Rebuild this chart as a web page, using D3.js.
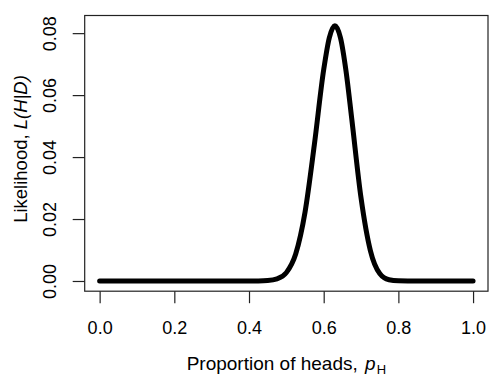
<!DOCTYPE html>
<html>
<head>
<meta charset="utf-8">
<script src="https://cdn.jsdelivr.net/npm/d3@7"></script>
<style>
  html, body { margin: 0; padding: 0; background: #fff; }
  svg { display: block; font-family: "Liberation Sans", Arial, sans-serif; }
</style>
</head>
<body>
<div id="chart"></div>
<script>
// proportion of heads (x) and likelihood (y)
const pH = [0, 0.1, 0.2, 0.3, 0.4, 0.425, 0.45, 0.475, 0.5, 0.525, 0.55, 0.575, 0.6, 0.615,
            0.63, 0.645, 0.66, 0.675, 0.7, 0.725, 0.75, 0.775, 0.8, 0.825, 0.9, 1];
const likelihood = [0, 0, 0, 0, 0.000002, 0.000017, 0.00012, 0.00065, 0.0027, 0.0087, 0.0222, 0.0440, 0.0682, 0.0785,
                    0.0824, 0.0785, 0.0676, 0.0525, 0.0268, 0.0098, 0.0024, 0.00039, 0.000037, 0.000002, 0, 0];
const xTicks = [0, 0.2, 0.4, 0.6, 0.8, 1.0];
const yTicks = [0, 0.02, 0.04, 0.06, 0.08];

const width = 496,
      height = 377;
const box = { left: 84.7, right: 488, top: 15.5, bottom: 291.2 };

const svg = d3.select("#chart")
              .append("svg")
              .attr("width", width)
              .attr("height", height);

// R style: 4% padding around the data range
const yMax = d3.max(likelihood);
const x = d3.scaleLinear().domain([-0.04, 1.04]).range([box.left, box.right]);
const y = d3.scaleLinear().domain([-0.04 * yMax, yMax * 1.04]).range([box.bottom, box.top]);

// Curve
const line = d3.line()
               .x((d, i) => x(pH[i]))
               .y(d => y(d))
               .curve(d3.curveMonotoneX);

svg.append("path")
   .datum(likelihood)
   .attr("d", line)
   .attr("fill", "none")
   .attr("stroke", "#000")
   .attr("stroke-width", 5)
   .attr("stroke-linecap", "round")
   .attr("stroke-linejoin", "round");

// Box
svg.append("rect")
   .attr("x", box.left)
   .attr("y", box.top)
   .attr("width", box.right - box.left)
   .attr("height", box.bottom - box.top)
   .attr("fill", "none")
   .attr("stroke", "#222")
   .attr("stroke-width", 1.2);

// Axes
const xAxis = svg.append("g")
                 .attr("transform", `translate(0,${box.bottom})`)
                 .call(d3.axisBottom(x).tickValues(xTicks).tickSize(12).tickPadding(18).tickFormat(d3.format(".1f")));

const yAxis = svg.append("g")
                 .attr("transform", `translate(${box.left},0)`)
                 .call(d3.axisLeft(y).tickValues(yTicks).tickSize(12).tickPadding(0).tickFormat(d3.format(".2f")));

[xAxis, yAxis].forEach(a => {
    a.select(".domain").remove();
    a.selectAll(".tick line").attr("stroke", "#222").attr("stroke-width", 1.2);
    a.selectAll("text").attr("fill", "#000").style("font-size", "18px");
});

yAxis.selectAll(".tick text")
     .attr("x", null).attr("dy", null)
     .attr("text-anchor", "middle")
     .attr("transform", "translate(-35,0) rotate(-90)")
     .attr("dy", "0.35em");

// Axis titles
const xt = svg.append("text")
              .attr("x", (box.left + box.right) / 2)
              .attr("y", 369.5)
              .attr("text-anchor", "middle")
              .style("font-size", "19px");
xt.append("tspan").text("Proportion of heads, ");
xt.append("tspan").attr("dx", 2).attr("font-style", "italic").text("p");
xt.append("tspan").attr("dx", 1).attr("dy", 4.5).style("font-size", "13px").text("H");

const yt = svg.append("text")
              .attr("transform", `translate(26.5,149) rotate(-90)`)
              .attr("text-anchor", "middle")
              .style("font-size", "18.5px");
yt.append("tspan").text("Likelihood, ");
yt.append("tspan").attr("font-style", "italic").text("L(H|D)");
</script>
</body>
</html>
